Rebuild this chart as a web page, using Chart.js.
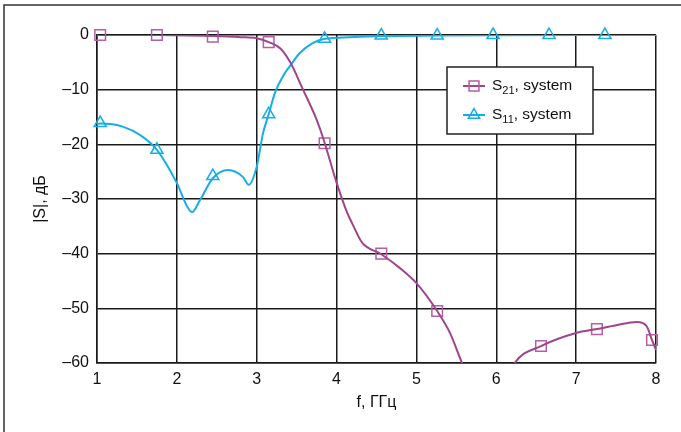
<!DOCTYPE html>
<html>
<head>
<meta charset="utf-8">
<script src="https://cdn.jsdelivr.net/npm/chart.js@4.4.1/dist/chart.umd.min.js"></script>
<style>
  html, body { margin: 0; padding: 0; background: #fff; }
  canvas { display: block; }
</style>
</head>
<body>
<canvas id="sparams" width="681" height="432"></canvas>
<script>
// |S21| curve, dB vs GHz (null = gap where it drops below -60)
const s21Freq = [1.0, 1.75, 2.45, 2.8, 3.0, 3.15, 3.3, 3.42, 3.58, 3.75, 3.85, 4.0, 4.13, 4.2, 4.32, 4.56, 4.79, 5.0, 5.26, 5.42, 5.57, 5.63, 5.9, 6.17, 6.23, 6.56, 7.0, 7.26, 7.5, 7.76, 7.88, 7.95, 8.0];
const s21Db   = [0, 0, -0.2, -0.4, -0.6, -1.3, -2.5, -5.0, -10, -15.5, -19.7, -27, -32.4, -34.6, -38, -40.1, -42.6, -45.4, -50.5, -54.5, -60, -62, null, -62, -60, -56.9, -54.5, -53.8, -53.1, -52.5, -53.2, -55.8, -57.6];
// |S11| curve
const s11Freq = [1.0, 1.04, 1.33, 1.54, 1.75, 2.0, 2.13, 2.19, 2.29, 2.45, 2.64, 2.83, 2.9, 3.0, 3.08, 3.15, 3.23, 3.33, 3.42, 3.54, 3.7, 3.85, 4.17, 4.56, 5.26, 6.0, 8.0];
const s11Db   = [-16.3, -16.2, -16.8, -18.3, -21.0, -27.1, -31.4, -32.4, -30.2, -26.2, -24.7, -26.0, -27.4, -24.1, -17.9, -14.5, -10.5, -7.5, -5.6, -3.3, -1.5, -0.7, -0.4, -0.2, -0.1, -0.05, 0];
// marker positions
const s21MarkFreq = [1.04, 1.75, 2.45, 3.15, 3.85, 4.56, 5.26, 6.56, 7.26, 7.95];
const s21MarkDb   = [0, 0, -0.3, -1.3, -19.8, -40, -50.5, -56.9, -53.8, -55.8];
const s11MarkFreq = [1.04, 1.75, 2.45, 3.15, 3.85, 4.56, 5.26, 5.96, 6.66, 7.36];
const s11MarkDb   = [-16.1, -21, -25.8, -14.5, -0.7, -0.1, -0.1, 0, 0, 0];
const xTicks = [1, 2, 3, 4, 5, 6, 7, 8];
const yTicks = [0, -10, -20, -30, -40, -50, -60];

const purple = '#a0448e';
const purpleMark = '#b45ea4';
const cyan = '#17ade6';
const font = "'Liberation Sans', Arial, sans-serif";

const pts = (xs, ys) => xs.map((x, i) => ({ x: x, y: ys[i] }));

// outer frame and the legend box
const decor = {
  id: 'decor',
  afterDraw(chart) {
    const c = chart.ctx;
    c.save();
    c.strokeStyle = '#333';
    c.lineWidth = 1.5;
    c.beginPath();
    c.moveTo(4, 432);
    c.lineTo(4, 5);
    c.lineTo(681, 5);
    c.stroke();

    c.fillStyle = '#fff';
    c.fillRect(447, 67, 146, 67);
    c.strokeStyle = '#222';
    c.lineWidth = 1.5;
    c.strokeRect(447, 67, 146, 67);

    const rows = [
      { sub: '21', color: purple, mark: purpleMark, style: 'rect', r: 7, y: 86 },
      { sub: '11', color: cyan, mark: cyan, style: 'triangle', r: 6.5, y: 115 }
    ];
    rows.forEach(row => {
      c.strokeStyle = row.color;
      c.lineWidth = 2;
      c.beginPath();
      c.moveTo(463, row.y);
      c.lineTo(485, row.y);
      c.stroke();
      c.lineWidth = 1.5;
      c.strokeStyle = row.mark;
      c.fillStyle = 'rgba(0,0,0,0)';
      Chart.helpers.drawPoint(c, { pointStyle: row.style, radius: row.r, borderWidth: 1.5 }, 474, row.y);
      c.fillStyle = '#111';
      c.textBaseline = 'middle';
      c.textAlign = 'left';
      c.font = '15.5px ' + font;
      let x = 492;
      c.fillText('S', x, row.y);
      x += c.measureText('S').width;
      c.font = '11px ' + font;
      c.fillText(row.sub, x, row.y + 5);
      x += c.measureText(row.sub).width;
      c.font = '15.5px ' + font;
      c.fillText(', system', x, row.y);
    });
    c.restore();
  }
};

new Chart(document.getElementById('sparams'), {
  type: 'line',
  data: {
    datasets: [
      {
        label: 'S21 curve',
        data: pts(s21Freq, s21Db),
        borderColor: purple,
        borderWidth: 2,
        pointRadius: 0,
        cubicInterpolationMode: 'monotone',
        spanGaps: false
      },
      {
        label: 'S11 curve',
        data: pts(s11Freq, s11Db),
        borderColor: cyan,
        borderWidth: 2,
        pointRadius: 0,
        cubicInterpolationMode: 'monotone'
      },
      {
        label: 'S21, system',
        data: pts(s21MarkFreq, s21MarkDb),
        showLine: false,
        pointStyle: 'rect',
        pointRadius: 7.5,
        pointBorderWidth: 1.5,
        pointBorderColor: purpleMark,
        pointBackgroundColor: 'rgba(0,0,0,0)',
        clip: false
      },
      {
        label: 'S11, system',
        data: pts(s11MarkFreq, s11MarkDb),
        showLine: false,
        pointStyle: 'triangle',
        pointRadius: 7,
        pointBorderWidth: 1.5,
        pointBorderColor: cyan,
        pointBackgroundColor: 'rgba(0,0,0,0)',
        clip: false
      }
    ]
  },
  options: {
    responsive: false,
    animation: false,
    events: [],
    layout: { padding: { top: 35, right: 25, left: 0, bottom: 0 } },
    plugins: {
      legend: { display: false },
      tooltip: { enabled: false }
    },
    scales: {
      x: {
        type: 'linear',
        min: 1,
        max: 8,
        afterFit: s => { s.height = 69; },
        afterBuildTicks: s => { s.ticks = xTicks.map(v => ({ value: v })); },
        grid: { color: '#1a1a1a', lineWidth: 1.5, drawTicks: false },
        border: { color: '#1a1a1a', width: 1.5 },
        ticks: { color: '#111', padding: 7, font: { family: font, size: 16 } },
        title: {
          display: true,
          text: 'f, ГГц',
          color: '#111',
          font: { family: font, size: 16 },
          padding: { top: 0, bottom: 20 }
        }
      },
      y: {
        min: -60,
        max: 0,
        afterFit: s => { s.width = 97; },
        afterBuildTicks: s => { s.ticks = yTicks.map(v => ({ value: v })); },
        grid: { color: '#1a1a1a', lineWidth: 1.5, drawTicks: false },
        border: { color: '#1a1a1a', width: 1.5 },
        ticks: {
          color: '#111',
          padding: 8,
          font: { family: font, size: 16 },
          callback: v => (v < 0 ? '\u2013' + Math.abs(v) : String(v))
        },
        title: {
          display: true,
          text: '|S|, дБ',
          color: '#111',
          font: { family: font, size: 16 },
          padding: { top: 31, bottom: 0 }
        }
      }
    }
  },
  plugins: [decor]
});
</script>
</body>
</html>
